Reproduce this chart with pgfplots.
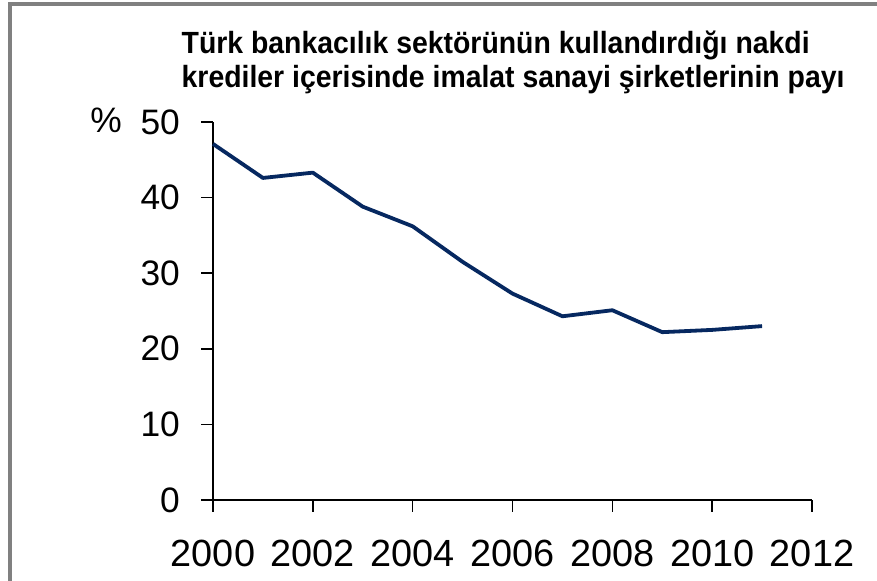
\documentclass[border=0pt]{standalone}
\usepackage{pgfplots}
\pgfplotsset{compat=1.18}
\usepackage{fontspec}
\setmainfont{Liberation Sans}
\definecolor{navy}{RGB}{6,40,96}
\definecolor{framegray}{RGB}{128,128,128}
\begin{document}
\begin{tikzpicture}[x=1bp,y=1bp]
\path[use as bounding box] (0,0) rectangle (877,581);
\draw[line width=4bp, color=framegray] (10,0) -- (10,577) -- (877,577);
\node[anchor=base west, inner sep=0pt, font=\bfseries\fontsize{28.5}{30}\selectfont] at (181.5,527) {\scalebox{1}[1.08]{Türk bankacılık sektörünün kullandırdığı nakdi}};
\node[anchor=base west, inner sep=0pt, font=\bfseries\fontsize{28.5}{30}\selectfont] at (181.5,493) {\scalebox{1}[1.08]{krediler içerisinde imalat sanayi şirketlerinin payı}};
\begin{axis}[
  at={(213bp,81bp)}, anchor=south west,
  scale only axis, width=599bp, height=378bp,
  xmin=2000, xmax=2012, ymin=0, ymax=50,
  axis x line=bottom, axis y line=left,
  axis line style={-, line width=1.6bp, black},
  xtick={2000,2002,...,2012}, ytick={0,10,...,50},
  tick align=outside, major tick length=12bp,
  tick style={line width=1.6bp, black},
  /pgf/number format/assume math mode=true,
  /pgf/number format/1000 sep={},
  xticklabel style={font=\fontsize{38}{40}\selectfont, inner sep=0pt, anchor=north, yshift=-28bp},
  yticklabel style={font=\fontsize{35.5}{37}\selectfont, inner sep=0pt, anchor=east, xshift=-21bp},
  clip=false,
]
\addplot[navy, line width=3.8bp, line join=round] coordinates {
(2000,47.1) (2001,42.6) (2002,43.3) (2003,38.8) (2004,36.2) (2005,31.5)
(2006,27.3) (2007,24.3) (2008,25.1) (2009,22.2) (2010,22.5) (2011,23.0)
};
\node[anchor=base east, inner sep=0pt, font=\fontsize{35.5}{37}\selectfont] at ([xshift=-91bp,yshift=-11bp]rel axis cs:0,1) {\%};
\end{axis}
\end{tikzpicture}
\end{document}
